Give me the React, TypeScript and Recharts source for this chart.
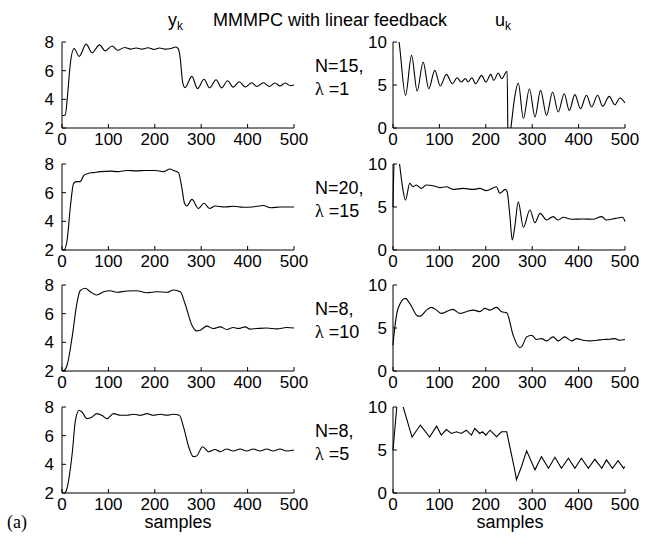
import { Line, LineChart, XAxis, YAxis } from "recharts";

const SANS = "'Liberation Sans', Arial, sans-serif";
const SERIF = "'Liberation Serif', 'Times New Roman', serif";

const X_TICKS = [0, 100, 200, 300, 400, 500];
const Y_TICKS = [2, 4, 6, 8];
const U_TICKS = [0, 5, 10];

// [sample, value]
const Y_N15: [number, number][] = [
  [0, 2.85], [7, 2.9], [12, 4.3], [18, 6.5], [26, 7.55], [37, 7.0], [52, 7.85], [65, 7.25],
  [81, 7.8], [93, 7.38], [108, 7.72], [120, 7.42], [135, 7.62], [148, 7.5], [160, 7.58],
  [172, 7.5], [185, 7.6], [198, 7.48], [210, 7.58], [222, 7.5], [235, 7.55], [245, 7.65],
  [251, 7.5], [255, 6.8], [260, 5.2], [265, 4.82], [280, 5.6], [292, 4.75], [306, 5.4],
  [318, 4.8], [332, 5.37], [344, 4.8], [357, 5.3], [369, 4.85], [382, 5.23], [395, 4.86],
  [409, 5.16], [420, 4.9], [434, 5.16], [447, 4.9], [459, 5.14], [470, 4.93], [481, 5.14],
  [492, 4.95], [500, 5.0],
];
const U_N15: [number, number][] = [
  [0, 11], [8, 11.5], [13, 10], [27, 3.8], [40, 8.45], [52, 4.3], [65, 7.67],
  [77, 4.57], [90, 6.7], [102, 4.88], [115, 6.24], [128, 5.15], [138, 5.85], [147, 5.35],
  [156, 5.74], [162, 5.35], [170, 5.85], [178, 5.15], [191, 6.12], [200, 5.35], [211, 6.24],
  [217, 5.54], [227, 6.4], [234, 5.74], [246, 6.6], [248, -2], [254, 0], [262, 3.5],
  [270, 5.23], [281, 1.1], [294, 4.57], [306, 1.28], [318, 4.38], [331, 1.47], [344, 4.19],
  [356, 1.86], [369, 3.99], [380, 2.05], [392, 3.88], [404, 2.25], [417, 3.8], [428, 2.44],
  [441, 3.8], [452, 2.52], [466, 3.68], [478, 2.7], [489, 3.49], [500, 2.9],
];
const Y_N20: [number, number][] = [
  [0, 2.0], [4, 2.0], [11, 2.7], [18, 5.0], [25, 6.65], [31, 6.77], [39, 6.77], [47, 7.2],
  [57, 7.35], [68, 7.4], [83, 7.47], [104, 7.5], [120, 7.47], [140, 7.55], [160, 7.52],
  [180, 7.55], [200, 7.55], [219, 7.47], [233, 7.65], [240, 7.55], [251, 7.4], [258, 6.4],
  [264, 5.26], [269, 5.07], [280, 5.53], [294, 4.9], [306, 5.26], [318, 4.9], [330, 5.07],
  [350, 5.0], [370, 5.05], [390, 4.98], [410, 5.0], [434, 5.1], [450, 4.95], [470, 5.0],
  [500, 5.0],
];
const U_N20: [number, number][] = [
  [0, 5], [3, 11], [9, 11.5], [14, 10], [20, 7.5], [27, 5.8], [36, 7.75], [43, 7.36], [50, 7.56],
  [61, 7.17], [72, 7.56], [86, 7.48], [101, 7.25], [115, 7.36], [129, 7.05], [151, 7.17],
  [173, 7.05], [187, 7.17], [201, 6.9], [223, 7.36], [230, 6.6], [242, 7.05], [246, 6.78],
  [252, 3.9], [257, 1.16], [262, 2.5], [270, 5.6], [281, 2.64], [295, 4.65], [306, 3.18],
  [317, 4.26], [331, 3.49], [345, 3.88], [356, 3.49], [367, 3.8], [385, 3.57], [410, 3.6],
  [430, 3.57], [450, 3.88], [460, 3.49], [480, 3.68], [495, 3.8], [500, 3.3],
];
const Y_N8_L10: [number, number][] = [
  [0, 2.0], [5, 2.05], [11, 2.4], [22, 4.4], [32, 6.7], [39, 7.6], [50, 7.77], [61, 7.53],
  [75, 7.3], [90, 7.53], [104, 7.6], [118, 7.49], [140, 7.58], [161, 7.6], [183, 7.46],
  [204, 7.53], [226, 7.49], [240, 7.65], [255, 7.53], [265, 6.71], [280, 5.2], [290, 4.8],
  [298, 4.85], [312, 5.13], [326, 4.96], [341, 5.08], [355, 4.9], [369, 5.03], [380, 4.96],
  [395, 5.08], [405, 4.92], [420, 4.96], [441, 5.0], [463, 4.94], [484, 5.03], [500, 5.0],
];
const U_N8_L10: [number, number][] = [
  [0, 3.0], [1, 3.6], [4, 5.1], [11, 7.3], [27, 8.44], [36, 7.86], [54, 6.38], [59, 6.38],
  [72, 7.08], [83, 7.4], [94, 7.08], [104, 6.7], [119, 7.0], [129, 7.16], [144, 6.7],
  [158, 6.9], [173, 7.08], [187, 6.9], [198, 7.28], [209, 7.08], [223, 7.4], [234, 6.9],
  [245, 6.77], [259, 4.16], [273, 2.72], [277, 2.8], [288, 3.97], [299, 4.16], [309, 3.66],
  [320, 3.77], [331, 3.5], [345, 3.97], [356, 3.5], [370, 3.97], [385, 3.5], [396, 3.77],
  [410, 3.58], [424, 3.5], [440, 3.58], [453, 3.66], [468, 3.7], [478, 3.77], [489, 3.58],
  [500, 3.66],
];
const Y_N8_L5: [number, number][] = [
  [0, 1.9], [5, 1.95], [11, 2.35], [22, 4.77], [29, 7.08], [37, 7.77], [43, 7.65], [54, 7.19],
  [65, 7.31], [75, 7.54], [86, 7.42], [97, 7.19], [111, 7.54], [126, 7.42], [140, 7.42],
  [154, 7.49], [169, 7.42], [183, 7.54], [197, 7.42], [212, 7.49], [226, 7.42], [240, 7.49],
  [253, 7.42], [262, 6.6], [273, 5.23], [283, 4.54], [290, 4.58], [303, 5.23], [316, 4.88],
  [330, 5.04], [341, 4.88], [355, 5.07], [369, 4.93], [384, 5.07], [398, 4.93], [412, 5.07],
  [427, 4.93], [441, 5.07], [455, 4.93], [470, 5.07], [484, 4.93], [500, 5.0],
];
const U_N8_L5: [number, number][] = [
  [0, 5.0], [9, 10.5], [17, 10.3], [22, 10], [41, 6.5], [59, 7.9], [79, 6.5],
  [94, 7.77], [104, 6.73], [115, 7.38], [126, 6.92], [137, 7.12], [147, 6.92],
  [158, 7.3], [169, 6.73], [176, 7.5], [187, 6.92], [193, 7.12], [200, 6.73], [209, 7.3],
  [223, 6.54], [234, 7.12], [245, 7.12], [263, 2.5], [266, 1.54], [277, 3.08], [288, 4.92],
  [306, 2.69], [320, 4.23], [335, 2.88], [349, 4.15], [363, 2.88], [378, 4.04], [392, 2.88],
  [406, 4.04], [421, 2.88], [435, 3.92], [450, 2.88], [460, 3.85], [473, 2.88], [485, 3.77],
  [497, 2.88], [500, 3.08],
];

const ROWS = [
  { top: 42, n: "N=15,", lam: " =1", y: Y_N15, u: U_N15 },
  { top: 164, n: "N=20,", lam: " =15", y: Y_N20, u: U_N20 },
  { top: 285, n: "N=8,", lam: " =10", y: Y_N8_L10, u: U_N8_L10 },
  { top: 407, n: "N=8,", lam: " =5", y: Y_N8_L5, u: U_N8_L5, linearU: true },
];

const tickStyle = { fill: "#000", fontSize: 17, fontFamily: SANS };
const blank = () => "";

function Panel({ left, top, pts, domain, ticks, gap, linear }: any) {
  const data = pts.map(([k, v]: [number, number]) => ({ k, v }));
  return (
    <div style={{ position: "absolute", left: left - 40, top: top - 10 }}>
      <LineChart width={292} height={126} data={data} margin={{ top: 10, right: 20, left: 0, bottom: 0 }}>
        <XAxis
          xAxisId="b"
          dataKey="k"
          type="number"
          domain={[0, 500]}
          ticks={X_TICKS}
          interval={0}
          height={30}
          tickSize={-4}
          tickMargin={9}
          tick={tickStyle}
          stroke="#000"
        />
        <XAxis
          xAxisId="t"
          orientation="top"
          dataKey="k"
          type="number"
          domain={[0, 500]}
          ticks={X_TICKS}
          height={0}
          tickSize={-4}
          tickFormatter={blank}
          stroke="#000"
        />
        <YAxis
          yAxisId="l"
          type="number"
          domain={domain}
          ticks={ticks}
          allowDataOverflow
          interval={0}
          width={40}
          tickSize={-4}
          tickMargin={gap}
          tick={tickStyle}
          stroke="#000"
        />
        <YAxis
          yAxisId="r"
          orientation="right"
          type="number"
          domain={domain}
          ticks={ticks}
          allowDataOverflow
          width={0}
          tickSize={-4}
          tickFormatter={blank}
          stroke="#000"
        />
        <Line
          xAxisId="b"
          yAxisId="l"
          dataKey="v"
          type={linear ? "linear" : "monotone"}
          stroke="#000"
          strokeWidth={1.1}
          dot={false}
          isAnimationActive={false}
        />
      </LineChart>
    </div>
  );
}

export default function App() {
  return (
    <div style={{ position: "absolute", left: 0, top: 0, width: 652, height: 546, background: "#fff" }}>
      {ROWS.map((r, i) => (
        <div key={i}>
          <Panel left={62} top={r.top} pts={r.y} domain={[2, 8]} ticks={Y_TICKS} gap={12} />
          <Panel left={393} top={r.top} pts={r.u} domain={[0, 10]} ticks={U_TICKS} gap={10} linear={r.linearU} />
        </div>
      ))}
      <svg width={652} height={546} style={{ position: "absolute", left: 0, top: 0, pointerEvents: "none" }}>
        <g fontFamily={SANS} fontSize={18} fill="#000">
          <text x={168} y={26}>
            y<tspan dy={4} fontSize={12}>k</tspan>
          </text>
          <text x={213} y={26}>MMMPC with linear feedback</text>
          <text x={495} y={26}>
            u<tspan dy={4} fontSize={12}>k</tspan>
          </text>
          {ROWS.map((r, i) => (
            <g key={i}>
              <text x={315} y={r.top + 30}>{r.n}</text>
              <text x={315} y={r.top + 53}>
                <tspan fontFamily={SERIF}>λ</tspan>
                {r.lam}
              </text>
            </g>
          ))}
          <text x={178} y={528} textAnchor="middle">samples</text>
          <text x={510} y={528} textAnchor="middle">samples</text>
          <text x={7} y={528} fontFamily={SERIF}>(a)</text>
        </g>
      </svg>
    </div>
  );
}
